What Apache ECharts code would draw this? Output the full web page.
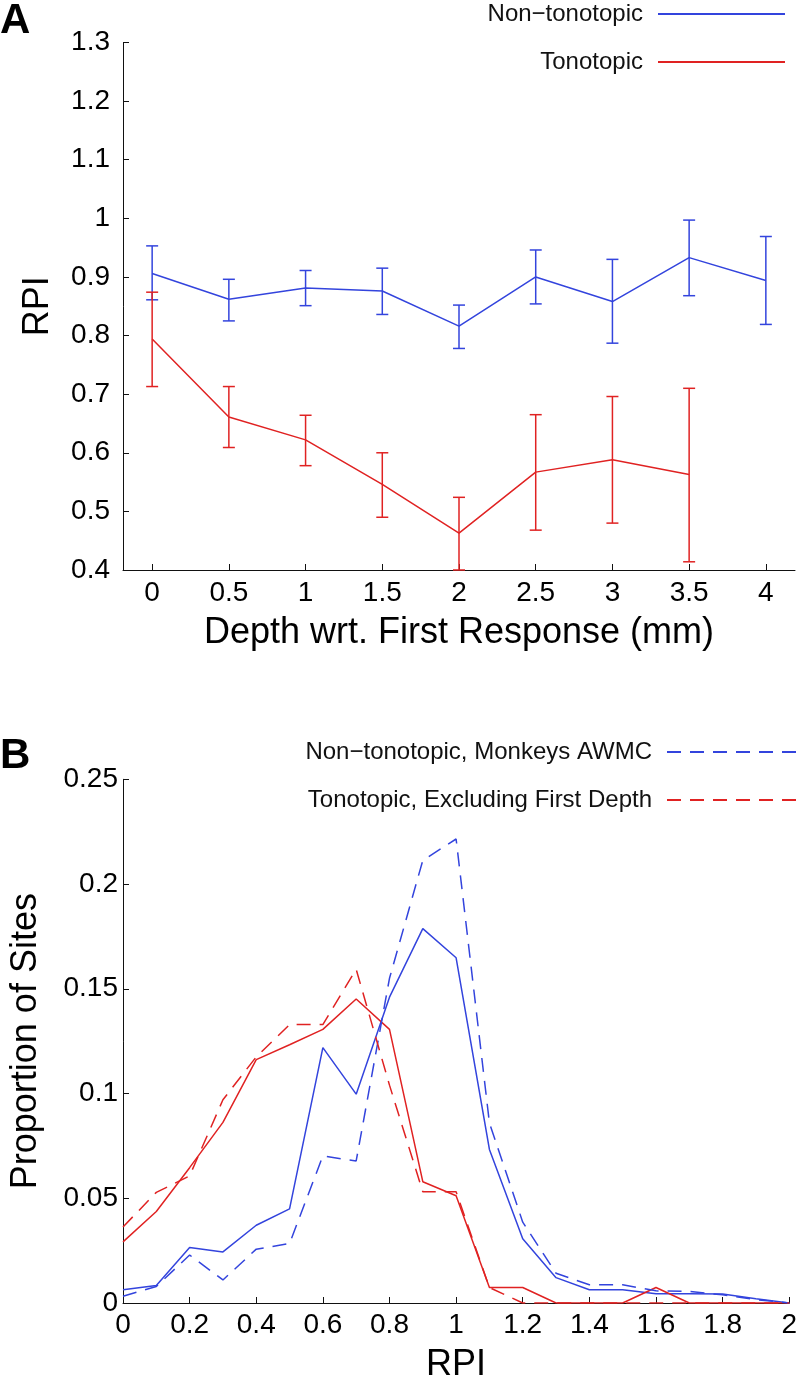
<!DOCTYPE html>
<html>
<head>
<meta charset="utf-8">
<script src="https://cdn.jsdelivr.net/npm/echarts@6/dist/echarts.min.js"></script>
<style>
html,body{margin:0;padding:0;background:#fff;}
#chart{width:800px;height:1384px;}
</style>
</head>
<body>
<div id="chart"></div>
<script>
// ---------- Panel A data ----------
const depthTicks = [0, 0.5, 1, 1.5, 2, 2.5, 3, 3.5, 4];
const nonTonoDepth = [0, 0.5, 1, 1.5, 2, 2.5, 3, 3.5, 4];
const nonTonoMean = [0.906, 0.862, 0.881, 0.876, 0.816, 0.900, 0.858, 0.933, 0.894];
const nonTonoLow  = [0.861, 0.825, 0.851, 0.836, 0.778, 0.854, 0.787, 0.868, 0.819];
const nonTonoHigh = [0.953, 0.896, 0.911, 0.915, 0.852, 0.946, 0.930, 0.997, 0.969];
const tonoDepth = [0, 0.5, 1, 1.5, 2, 2.5, 3, 3.5];
const tonoMean = [0.794, 0.661, 0.622, 0.546, 0.463, 0.567, 0.588, 0.563];
const tonoLow  = [0.713, 0.609, 0.578, 0.490, 0.400, 0.468, 0.480, 0.414];
const tonoHigh = [0.874, 0.713, 0.664, 0.600, 0.524, 0.665, 0.696, 0.710];

// ---------- Panel B data ----------
const rpiBins = [0, 0.1, 0.2, 0.3, 0.4, 0.5, 0.6, 0.7, 0.8, 0.9, 1.0, 1.1, 1.2, 1.3, 1.4, 1.5, 1.6, 1.7, 1.8, 1.9, 2.0];
const nonTonoAll = [0.0063, 0.0083, 0.0265, 0.0244, 0.0371, 0.0449, 0.1219, 0.0997, 0.146, 0.1787, 0.1648, 0.0733, 0.0307, 0.0121, 0.0063, 0.0063, 0.0044, 0.0044, 0.0043, 0.0020, 0];
const nonTonoAWMC = [0.0032, 0.0079, 0.0229, 0.0110, 0.0257, 0.0284, 0.0702, 0.0678, 0.155, 0.2113, 0.2215, 0.086, 0.0386, 0.0142, 0.0087, 0.0087, 0.0058, 0.0055, 0.0039, 0.0016, 0];
const tonoAll = [0.0292, 0.0437, 0.0646, 0.0862, 0.1162, 0.1233, 0.1306, 0.1451, 0.1306, 0.0579, 0.0512, 0.0074, 0.0074, 0, 0, 0, 0.0074, 0, 0, 0, 0];
const tonoExclFirst = [0.0363, 0.0528, 0.0607, 0.097, 0.1175, 0.1329, 0.1329, 0.1593, 0.104, 0.0531, 0.0531, 0.0074, 0, 0, 0, 0, 0, 0, 0, 0, 0];

const BLUE = '#3344dd';
const RED = '#e02222';
const FONT = 'Liberation Sans, Arial, Helvetica, sans-serif';

const zip = (xs, ys) => xs.map((x, i) => [x, ys[i]]);
const zip3 = (xs, a, b) => xs.map((x, i) => [x, a[i], b[i]]);

function errorBars(color) {
  return function (params, api) {
    const x = api.value(0);
    const lo = api.coord([x, api.value(1)]);
    const hi = api.coord([x, api.value(2)]);
    const w = 6;
    const st = { stroke: color, lineWidth: 1.5 };
    return {
      type: 'group',
      children: [
        { type: 'line', shape: { x1: lo[0], y1: lo[1], x2: hi[0], y2: hi[1] }, style: st },
        { type: 'line', shape: { x1: hi[0] - w, y1: hi[1], x2: hi[0] + w, y2: hi[1] }, style: st },
        { type: 'line', shape: { x1: lo[0] - w, y1: lo[1], x2: lo[0] + w, y2: lo[1] }, style: st }
      ]
    };
  };
}

const axisLineStyle = { show: true, onZero: false, lineStyle: { color: '#111', width: 1 } };
const tickStyle = { show: true, inside: true, length: 6, lineStyle: { color: '#111', width: 1 } };

const chart = echarts.init(document.getElementById('chart'), null, { renderer: 'canvas' });

const legendBase = {
  orient: 'horizontal',
  align: 'right',
  padding: 0,
  itemGap: 0,
  itemHeight: 12,
  selectedMode: false,
  itemStyle: { opacity: 0 },
  textStyle: { fontSize: 24, lineHeight: 24, color: '#111', fontFamily: FONT, padding: [0, 10, 0, 0] }
};

chart.setOption({
  animation: false,
  backgroundColor: '#fff',
  textStyle: { fontFamily: FONT },
  title: [
    { text: 'A', left: 0, top: 0, padding: 0, textStyle: { fontSize: 42, fontWeight: 'bold', color: '#000', fontFamily: FONT } },
    { text: 'B', left: 0, top: 735, padding: 0, textStyle: { fontSize: 42, fontWeight: 'bold', color: '#000', fontFamily: FONT } }
  ],
  legend: [
    Object.assign({}, legendBase, { data: ['Non\u2212tonotopic'], right: 14, top: 2, itemWidth: 127 }),
    Object.assign({}, legendBase, { data: ['Tonotopic'], right: 14, top: 50, itemWidth: 127 }),
    Object.assign({}, legendBase, { data: ['Non\u2212tonotopic, Monkeys AWMC'], right: 3, top: 740, itemWidth: 129 }),
    Object.assign({}, legendBase, { data: ['Tonotopic, Excluding First Depth'], right: 3, top: 788, itemWidth: 129 })
  ],
  grid: [
    { left: 123, top: 42.5, right: 5, bottom: 814 },
    { left: 123, top: 779.3, right: 4, bottom: 75.7 }
  ],
  xAxis: [
    {
      gridIndex: 0, type: 'value', min: -0.19, max: 4.19,
      name: 'Depth wrt. First Response (mm)', nameLocation: 'middle', nameGap: 45,
      nameTextStyle: { fontSize: 36, color: '#000', fontFamily: FONT },
      axisLine: axisLineStyle,
      axisTick: Object.assign({ customValues: depthTicks }, tickStyle),
      axisLabel: { customValues: depthTicks, fontSize: 28, color: '#000', margin: 9, fontFamily: FONT },
      splitLine: { show: false }
    },
    {
      gridIndex: 1, type: 'value', min: 0, max: 2, interval: 0.2,
      name: 'RPI', nameLocation: 'middle', nameGap: 44,
      nameTextStyle: { fontSize: 36, color: '#000', fontFamily: FONT },
      axisLine: axisLineStyle,
      axisTick: tickStyle,
      axisLabel: { fontSize: 28, color: '#000', margin: 8, fontFamily: FONT },
      splitLine: { show: false }
    }
  ],
  yAxis: [
    {
      gridIndex: 0, type: 'value', min: 0.4, max: 1.3, interval: 0.1,
      name: 'RPI', nameLocation: 'middle', nameGap: 67, nameRotate: 90,
      nameTextStyle: { fontSize: 36, color: '#000', fontFamily: FONT },
      axisLine: axisLineStyle,
      axisTick: tickStyle,
      axisLabel: { fontSize: 28, color: '#000', margin: 13, fontFamily: FONT },
      splitLine: { show: false }
    },
    {
      gridIndex: 1, type: 'value', min: 0, max: 0.25, interval: 0.05,
      name: 'Proportion of Sites', nameLocation: 'middle', nameGap: 79, nameRotate: 90,
      nameTextStyle: { fontSize: 36, color: '#000', fontFamily: FONT },
      axisLine: axisLineStyle,
      axisTick: tickStyle,
      axisLabel: { fontSize: 28, color: '#000', margin: 5, fontFamily: FONT },
      splitLine: { show: false }
    }
  ],
  series: [
    // Panel A
    { name: 'Non\u2212tonotopic', type: 'line', xAxisIndex: 0, yAxisIndex: 0, symbol: 'none',
      lineStyle: { color: BLUE, width: 1.5 }, itemStyle: { color: BLUE },
      data: zip(nonTonoDepth, nonTonoMean), z: 3 },
    { name: 'Tonotopic', type: 'line', xAxisIndex: 0, yAxisIndex: 0, symbol: 'none',
      lineStyle: { color: RED, width: 1.5 }, itemStyle: { color: RED },
      data: zip(tonoDepth, tonoMean), z: 3 },
    { name: 'nonTonoErr', type: 'custom', xAxisIndex: 0, yAxisIndex: 0,
      renderItem: errorBars(BLUE), encode: { x: 0, y: [1, 2] },
      data: zip3(nonTonoDepth, nonTonoLow, nonTonoHigh), z: 2 },
    { name: 'tonoErr', type: 'custom', xAxisIndex: 0, yAxisIndex: 0,
      renderItem: errorBars(RED), encode: { x: 0, y: [1, 2] },
      data: zip3(tonoDepth, tonoLow, tonoHigh), z: 2 },
    // Panel B
    { name: 'Non\u2212tonotopic (all)', type: 'line', xAxisIndex: 1, yAxisIndex: 1, symbol: 'none',
      lineStyle: { color: BLUE, width: 1.5 }, itemStyle: { color: BLUE },
      data: zip(rpiBins, nonTonoAll) },
    { name: 'Tonotopic (all)', type: 'line', xAxisIndex: 1, yAxisIndex: 1, symbol: 'none',
      lineStyle: { color: RED, width: 1.5 }, itemStyle: { color: RED },
      data: zip(rpiBins, tonoAll) },
    { name: 'Non\u2212tonotopic, Monkeys AWMC', type: 'line', xAxisIndex: 1, yAxisIndex: 1, symbol: 'none',
      lineStyle: { color: BLUE, width: 1.5, type: [14, 9] }, itemStyle: { color: BLUE },
      data: zip(rpiBins, nonTonoAWMC) },
    { name: 'Tonotopic, Excluding First Depth', type: 'line', xAxisIndex: 1, yAxisIndex: 1, symbol: 'none',
      lineStyle: { color: RED, width: 1.5, type: [14, 9] }, itemStyle: { color: RED },
      data: zip(rpiBins, tonoExclFirst) }
  ]
});
</script>
</body>
</html>
